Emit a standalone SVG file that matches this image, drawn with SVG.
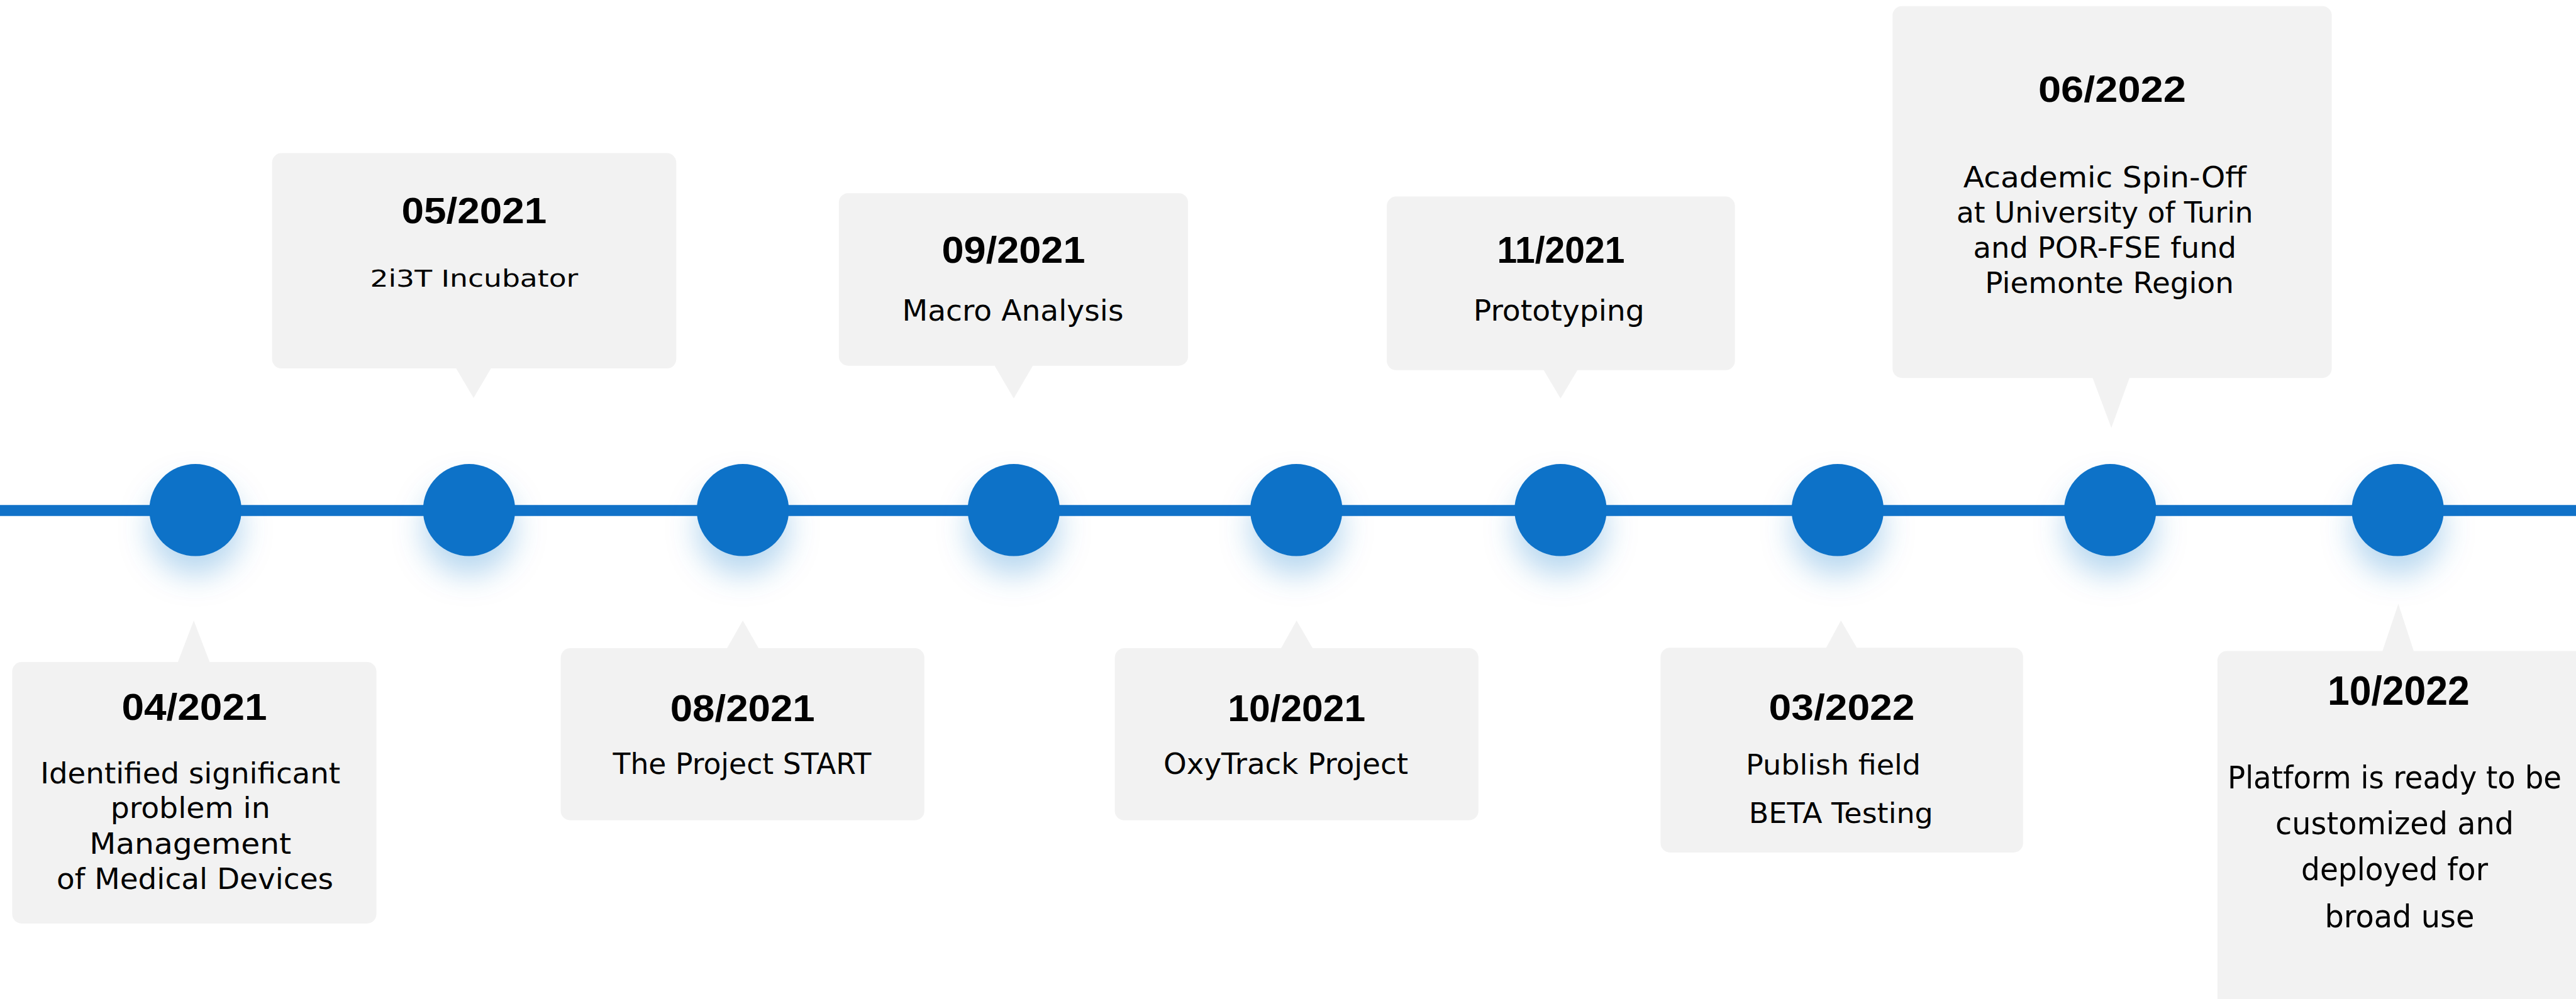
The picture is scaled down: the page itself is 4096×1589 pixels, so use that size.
<svg xmlns="http://www.w3.org/2000/svg" width="4096" height="1589" viewBox="0 0 4096 1589">
  <style>
    .card { fill: #f2f2f2; }
    .dot { fill: #1172c8; }
    .date { font-family: "Liberation Sans", Arial, sans-serif; font-weight: 700; fill: #000; text-anchor: middle; }
    .desc { font-family: "DejaVu Sans", "Noto Sans", sans-serif; font-weight: 400; fill: #000; text-anchor: middle; }
  </style>
  <defs>
    <filter id="glow" x="-80%" y="-80%" width="260%" height="300%">
      <feGaussianBlur in="SourceAlpha" stdDeviation="24"/>
      <feOffset dy="30" result="blur"/>
      <feFlood flood-color="#1172c8" flood-opacity="0.28"/>
      <feComposite in2="blur" operator="in"/>
      <feMerge>
        <feMergeNode/>
        <feMergeNode in="SourceGraphic"/>
      </feMerge>
    </filter>
  </defs>

  <rect width="4096" height="1589" fill="#ffffff"/>

  <!-- timeline axis -->
  <g id="connectors">
    <line x1="0" y1="812" x2="4096" y2="812" stroke="#1172c8" stroke-width="17.7"/>
  </g>

  <!-- milestones: marker dot plus callout card -->
  <g id="m-2021-04">
    <circle class="dot" cx="310.7" cy="811.3" r="73.3" filter="url(#glow)"/>
    <rect class="card" x="19.4" y="1053.1" width="579.1" height="415.8" rx="15"/>
    <polygon class="card" points="282.5,1054 308.1,986.9 333.7,1054"/>
    <text class="date" x="309" y="1145" font-size="59.2" textLength="231" lengthAdjust="spacingAndGlyphs">04/2021</text>
    <text class="desc" font-size="46">
      <tspan x="310" y="1245.6" textLength="477" lengthAdjust="spacingAndGlyphs">Identified significant</tspan>
      <tspan x="310" y="1301.2" textLength="254" lengthAdjust="spacingAndGlyphs">problem in</tspan>
      <tspan x="310" y="1357.7" textLength="321" lengthAdjust="spacingAndGlyphs">Management</tspan>
      <tspan x="310" y="1414.2" textLength="440" lengthAdjust="spacingAndGlyphs">of Medical Devices</tspan>
    </text>
  </g>

  <g id="m-2021-05">
    <circle class="dot" cx="745.9" cy="811.3" r="73.3" filter="url(#glow)"/>
    <rect class="card" x="432.6" y="243.6" width="642.7" height="342.5" rx="15"/>
    <polygon class="card" points="724.7,585 753,632.9 781.3,585"/>
    <text class="date" x="753.9" y="354.9" font-size="57" textLength="231" lengthAdjust="spacingAndGlyphs">05/2021</text>
    <text class="desc" x="753.9" y="456" font-size="37" textLength="331" lengthAdjust="spacingAndGlyphs">2i3T Incubator</text>
  </g>

  <g id="m-2021-08">
    <circle class="dot" cx="1181.1" cy="811.3" r="73.3" filter="url(#glow)"/>
    <rect class="card" x="891.6" y="1031.1" width="578.2" height="273.6" rx="15"/>
    <polygon class="card" points="1155.5,1032 1181.1,986.9 1206.7,1032"/>
    <text class="date" x="1180.7" y="1146.7" font-size="59.2" textLength="230" lengthAdjust="spacingAndGlyphs">08/2021</text>
    <text class="desc" x="1180" y="1230.6" font-size="46" textLength="411" lengthAdjust="spacingAndGlyphs">The Project START</text>
  </g>

  <g id="m-2021-09">
    <circle class="dot" cx="1611.9" cy="811.3" r="73.3" filter="url(#glow)"/>
    <rect class="card" x="1333.8" y="307.2" width="555.3" height="274.5" rx="15"/>
    <polygon class="card" points="1581,580.7 1611.9,633.8 1642.8,580.7"/>
    <text class="date" x="1611.5" y="417.5" font-size="59" textLength="228" lengthAdjust="spacingAndGlyphs">09/2021</text>
    <text class="desc" x="1610.5" y="510.2" font-size="45.4" textLength="352" lengthAdjust="spacingAndGlyphs">Macro Analysis</text>
  </g>

  <g id="m-2021-10">
    <circle class="dot" cx="2061.2" cy="811.3" r="73.3" filter="url(#glow)"/>
    <rect class="card" x="1772.6" y="1031.1" width="578.2" height="273.6" rx="15"/>
    <polygon class="card" points="2036.5,1032 2061.7,986.9 2087.7,1032"/>
    <text class="date" x="2061.7" y="1146.7" font-size="59" textLength="219" lengthAdjust="spacingAndGlyphs">10/2021</text>
    <text class="desc" x="2044.5" y="1230.6" font-size="46" textLength="389" lengthAdjust="spacingAndGlyphs">OxyTrack Project</text>
  </g>

  <g id="m-2021-11">
    <circle class="dot" cx="2481.4" cy="811.3" r="73.3" filter="url(#glow)"/>
    <rect class="card" x="2205.1" y="312.5" width="553.5" height="276.3" rx="15"/>
    <polygon class="card" points="2454,587.8 2481.4,633.8 2508.8,587.8"/>
    <text class="date" x="2481.9" y="417.5" font-size="59" textLength="203" lengthAdjust="spacingAndGlyphs">11/2021</text>
    <text class="desc" x="2478.8" y="510.2" font-size="46" textLength="272" lengthAdjust="spacingAndGlyphs">Prototyping</text>
  </g>

  <g id="m-2022-03">
    <circle class="dot" cx="2921.9" cy="811.3" r="73.3" filter="url(#glow)"/>
    <rect class="card" x="2640.4" y="1030.2" width="576.4" height="325.7" rx="15"/>
    <polygon class="card" points="2903.4,1031 2927.2,986.9 2952.8,1031"/>
    <text class="date" x="2928.5" y="1145" font-size="56.7" textLength="232" lengthAdjust="spacingAndGlyphs">03/2022</text>
    <text class="desc" font-size="43.6">
      <tspan x="2922" y="1232.3" textLength="278" lengthAdjust="spacingAndGlyphs">Publish field</tspan>
      <tspan x="2927.3" y="1309.2" textLength="293" lengthAdjust="spacingAndGlyphs">BETA Testing</tspan>
    </text>
  </g>

  <g id="m-2022-06">
    <circle class="dot" cx="3355.3" cy="811.3" r="73.3" filter="url(#glow)"/>
    <rect class="card" x="3009.3" y="9.7" width="698.3" height="591.5" rx="15"/>
    <polygon class="card" points="3327.1,600.2 3357.2,680.6 3386.3,600.2"/>
    <text class="date" x="3358.4" y="162.4" font-size="58" textLength="235" lengthAdjust="spacingAndGlyphs">06/2022</text>
    <text class="desc" font-size="46">
      <tspan x="3354.1" y="297.5" textLength="450" lengthAdjust="spacingAndGlyphs">Academic Spin-Off</tspan>
      <tspan x="3354.1" y="353.5" textLength="471.6" lengthAdjust="spacingAndGlyphs">at University of Turin</tspan>
      <tspan x="3354.1" y="409.6" textLength="418.7" lengthAdjust="spacingAndGlyphs">and POR-FSE fund</tspan>
      <tspan x="3354.1" y="465.7" textLength="395.7" lengthAdjust="spacingAndGlyphs">Piemonte Region</tspan>
    </text>
  </g>

  <g id="m-2022-10">
    <circle class="dot" cx="3812.6" cy="811.3" r="73.3" filter="url(#glow)"/>
    <rect class="card" x="3525.8" y="1035.5" width="700" height="700" rx="15"/>
    <polygon class="card" points="3788,1036.5 3813.5,960.4 3838.3,1036.5"/>
    <text class="date" x="3813.9" y="1121.1" font-size="64" textLength="226" lengthAdjust="spacingAndGlyphs">10/2022</text>
    <text class="desc" font-size="49.6">
      <tspan x="3815.4" y="1254.4" textLength="531" lengthAdjust="spacingAndGlyphs">Platform is ready to be</tspan>
      <tspan x="3815.4" y="1327.2" textLength="379" lengthAdjust="spacingAndGlyphs">customized and</tspan>
      <tspan x="3815.4" y="1400.1" textLength="297" lengthAdjust="spacingAndGlyphs">deployed for</tspan>
      <tspan x="3815.4" y="1475.1" textLength="238" lengthAdjust="spacingAndGlyphs">broad use</tspan>
    </text>
  </g>
</svg>
